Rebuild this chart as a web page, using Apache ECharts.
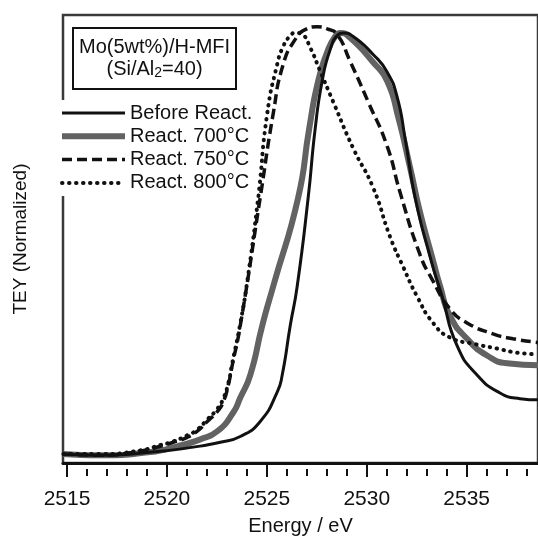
<!DOCTYPE html>
<html>
<head>
<meta charset="utf-8">
<script src="https://cdn.jsdelivr.net/npm/echarts@6/dist/echarts.min.js"></script>
<style>
html, body { margin: 0; padding: 0; background: #fff; }
#chart { width: 538px; height: 541px; }
</style>
</head>
<body>
<div id="chart"></div>
<script>
// (energy in eV, TEY normalized)
const energyBefore = [2514.82, 2516.67, 2519.67, 2521.32, 2522.67, 2523.67, 2524.67, 2525.52, 2525.77, 2526.17, 2526.52, 2527.07, 2527.42, 2527.77, 2528.17, 2528.57, 2528.82, 2529.27, 2530.32, 2531.02, 2531.52, 2531.92, 2532.42, 2533.17, 2533.77, 2534.52, 2535.52, 2536.67, 2537.67, 2538.57];
const teyBefore = [0.022, 0.019, 0.029, 0.039, 0.051, 0.065, 0.102, 0.174, 0.216, 0.337, 0.434, 0.652, 0.821, 0.938, 1.015, 1.052, 1.056, 1.049, 1.003, 0.960, 0.899, 0.797, 0.652, 0.506, 0.409, 0.288, 0.216, 0.172, 0.158, 0.155];

const energy700 = [2514.82, 2516.67, 2519.17, 2520.52, 2521.67, 2522.52, 2523.32, 2523.67, 2524.17, 2524.77, 2525.32, 2526.57, 2527.12, 2527.57, 2528.07, 2528.42, 2528.67, 2529.17, 2530.32, 2531.02, 2531.57, 2532.17, 2532.67, 2533.27, 2533.67, 2534.17, 2535.02, 2536.02, 2537.02, 2538.57];
const tey700 = [0.022, 0.019, 0.027, 0.041, 0.058, 0.078, 0.124, 0.160, 0.216, 0.337, 0.434, 0.652, 0.821, 0.938, 1.015, 1.047, 1.056, 1.044, 0.984, 0.938, 0.850, 0.725, 0.615, 0.506, 0.434, 0.361, 0.305, 0.264, 0.245, 0.240];

const energy750 = [2514.82, 2516.67, 2518.67, 2519.67, 2520.32, 2521.02, 2521.52, 2522.02, 2522.52, 2522.82, 2523.07, 2523.27, 2523.67, 2524.67, 2525.32, 2525.82, 2526.42, 2526.92, 2527.52, 2528.02, 2528.52, 2529.17, 2530.07, 2531.02, 2531.67, 2532.67, 2533.27, 2534.17, 2535.02, 2536.32, 2537.32, 2538.57];
const tey750 = [0.022, 0.019, 0.029, 0.041, 0.051, 0.063, 0.078, 0.102, 0.126, 0.150, 0.191, 0.240, 0.337, 0.652, 0.858, 0.979, 1.040, 1.064, 1.071, 1.066, 1.052, 0.986, 0.887, 0.778, 0.664, 0.511, 0.451, 0.378, 0.344, 0.317, 0.305, 0.296];

const energy800 = [2514.82, 2516.67, 2518.67, 2519.67, 2520.32, 2521.02, 2521.52, 2522.02, 2522.52, 2522.82, 2523.07, 2523.27, 2523.67, 2524.02, 2524.57, 2525.02, 2525.52, 2525.82, 2526.17, 2526.42, 2526.77, 2527.17, 2527.67, 2528.32, 2529.32, 2530.32, 2531.17, 2531.82, 2532.52, 2533.32, 2534.17, 2535.32, 2536.52, 2537.52, 2538.57];
const tey800 = [0.022, 0.022, 0.031, 0.044, 0.053, 0.068, 0.082, 0.107, 0.133, 0.158, 0.196, 0.245, 0.342, 0.446, 0.652, 0.858, 0.979, 1.023, 1.049, 1.056, 1.052, 1.020, 0.962, 0.887, 0.773, 0.676, 0.555, 0.482, 0.409, 0.344, 0.308, 0.293, 0.281, 0.271, 0.267];

const majorTicks = [2515, 2520, 2525, 2530, 2535];
const minorTicks = [2516, 2517, 2518, 2519, 2521, 2522, 2523, 2524, 2526, 2527, 2528, 2529, 2531, 2532, 2533, 2534, 2536, 2537, 2538];
const seriesNames = ['Before React.', 'React. 700°C', 'React. 750°C', 'React. 800°C'];

const font = "'Liberation Sans', Arial, sans-serif";
const xMin = 2514.8, xMax = 2538.57;

function pairs(xs, ys) {
  return xs.map((x, i) => [x, ys[i]]);
}

const styles = [
  { color: '#111', width: 3, type: 'solid', cap: 'butt' },
  { color: '#626262', width: 6, type: 'solid', cap: 'butt' },
  { color: '#111', width: 3.5, type: [10, 5], cap: 'butt' },
  { color: '#111', width: 4, type: [0.5, 6.5], cap: 'round' }
];

const chart = echarts.init(document.getElementById('chart'));
chart.setOption({
  animation: false,
  title: {
    text: '{a|Mo(5wt%)/H-MFI}\n{a|(Si/Al}{s|2}{a|=40)}',
    left: 73,
    top: 27,
    padding: [9, 6, 9, 6],
    borderColor: '#111',
    borderWidth: 2,
    textStyle: {
      fontWeight: 'normal',
      rich: {
        a: { fontSize: 20, lineHeight: 22, color: '#111', fontFamily: font, fontWeight: 'normal', align: 'center' },
        s: { fontSize: 14, lineHeight: 14, color: '#111', fontFamily: font, fontWeight: 'normal', align: 'center', verticalAlign: 'bottom' }
      }
    }
  },
  legend: {
    orient: 'vertical',
    left: 59,
    top: 100,
    padding: [3, 4, 3, 0],
    itemWidth: 63,
    itemHeight: 20,
    itemGap: 3.3,
    backgroundColor: '#fff',
    textStyle: { fontSize: 20, color: '#111', fontFamily: font },
    data: seriesNames.map((n, i) => ({
      name: n,
      itemStyle: { opacity: 0 },
      lineStyle: { color: styles[i].color, width: styles[i].width, type: styles[i].type, cap: styles[i].cap }
    }))
  },
  grid: [
    { left: 63, right: 0, top: 15, bottom: 72, show: true, borderColor: '#3a3a3a', borderWidth: 2.5 },
    { left: 63, right: 0, top: 15, bottom: 72, show: false }
  ],
  xAxis: [
    {
      type: 'value', gridIndex: 0, min: xMin, max: xMax, position: 'bottom',
      axisLine: { show: true, lineStyle: { color: '#111', width: 3 } },
      axisTick: { show: true, customValues: majorTicks, length: 14, lineStyle: { color: '#111', width: 2 } },
      axisLabel: {
        customValues: majorTicks, margin: 26, fontSize: 21, color: '#111', fontFamily: font,
        formatter: v => String(v)
      },
      splitLine: { show: false },
      name: 'Energy / eV', nameLocation: 'middle', nameGap: 53,
      nameTextStyle: { fontSize: 20, color: '#111', fontFamily: font }
    },
    {
      type: 'value', gridIndex: 1, min: xMin, max: xMax, position: 'bottom',
      axisLine: { show: false },
      axisTick: { show: true, customValues: minorTicks, length: 7, lineStyle: { color: '#111', width: 2 } },
      axisLabel: { show: false },
      splitLine: { show: false }
    }
  ],
  yAxis: [
    {
      type: 'value', gridIndex: 0, min: 0, max: 1.1,
      axisLine: { show: false }, axisTick: { show: false }, axisLabel: { show: false },
      splitLine: { show: false },
      name: 'TEY (Normalized)', nameLocation: 'middle', nameGap: 33,
      nameTextStyle: { fontSize: 19, color: '#111', fontFamily: font }
    },
    { type: 'value', gridIndex: 1, min: 0, max: 1.1, show: false }
  ],
  series: [
    [energyBefore, teyBefore],
    [energy700, tey700],
    [energy750, tey750],
    [energy800, tey800]
  ].map((d, i) => ({
    name: seriesNames[i],
    type: 'line',
    xAxisIndex: 0,
    yAxisIndex: 0,
    data: pairs(d[0], d[1]),
    symbol: 'none',
    smooth: 0.55,
    z: i === 1 ? 1 : 2,
    lineStyle: { color: styles[i].color, width: styles[i].width, type: styles[i].type, cap: styles[i].cap },
    itemStyle: { color: styles[i].color }
  }))
});
</script>
</body>
</html>
